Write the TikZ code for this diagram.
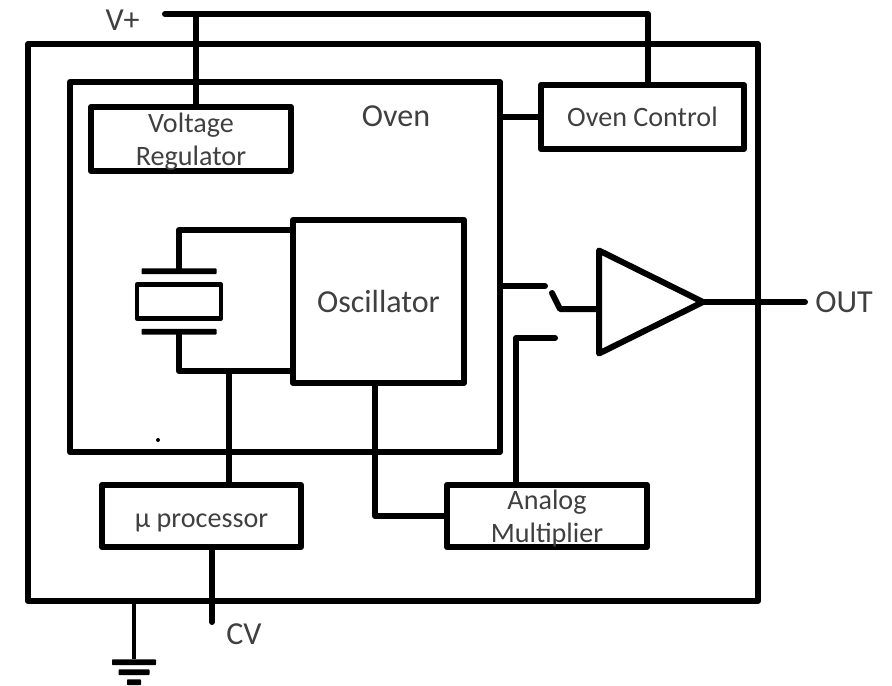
\documentclass[tikz,border=0pt]{standalone}
\usepackage{fontspec}
\setmainfont{Carlito}
\usepackage{xcolor}
\usepackage{tikz}
\usetikzlibrary{positioning,shapes.geometric}

\begin{document}
\begin{tikzpicture}[
    wire/.style={line width=0.15cm, line cap=round, line join=round},
    thinwire/.style={line width=0.09cm},
    box/.style={rectangle, draw, wire, outer sep=0pt, inner sep=0pt, align=center, text=black!75, font=\fontsize{20pt}{23.5pt}\selectfont},
    plate/.style={rectangle, fill=black, rounded corners=0.5pt, minimum height=0.14cm, inner sep=0pt, outer sep=0pt},
    caption/.style={text=black!75, font=\fontsize{22.8pt}{26pt}\selectfont, inner sep=0pt},
    amplifier/.style={isosceles triangle, isosceles triangle stretches, draw, wire, inner sep=0pt, outer sep=0pt, minimum height=2.6cm, minimum width=2.575cm},
  ]
  \useasboundingbox (0,0) rectangle (22.3,-17.15);

  % Enclosure and oven
  \node[box, minimum width=18.25cm, minimum height=13.925cm] (device) at (9.825,-8.0625) {};
  \node[box, minimum width=10.75cm, minimum height=9.25cm, below right=0.95cm and 1.05cm of device.north west] (oven) {};
  \node[caption] (ovenlabel) at ([xshift=2.775cm,yshift=-0.85cm]oven.north) {Oven};
  \node[circle, fill=black, inner sep=0pt, minimum size=0.1cm] (speck) at ([xshift=2.2cm,yshift=0.3cm]oven.south west) {};

  % Blocks
  \node[box, minimum width=5cm, minimum height=1.6cm, below right=0.625cm and 0.525cm of oven.north west] (regulator) {\rule{0pt}{0.62cm}Voltage\\Regulator};
  \node[box, minimum width=5.075cm, minimum height=1.6cm, below right=0.075cm and 1.025cm of oven.north east] (ovencontrol) {Oven Control};
  \node[box, minimum width=4.275cm, minimum height=4.075cm, below right=3.45cm and 5.575cm of oven.north west, font=\fontsize{22.8pt}{26pt}\selectfont] (oscillator) {Oscillator};
  \node[box, minimum width=4.975cm, minimum height=1.55cm, below right=0.825cm and 0.8cm of oven.south west] (processor) {\rule{0pt}{0.68cm}µ processor};
  \node[box, minimum width=5cm, minimum height=1.55cm, right=3.65cm of processor] (multiplier) {\rule{0pt}{0.62cm}Analog\\Multiplier};

  % Crystal
  \node[box, line width=0.11cm, minimum width=2.1cm, minimum height=0.85cm, left=1.8cm of oscillator] (crystal) {};
  \node[plate, minimum width=1.875cm, above=0.26cm of crystal] (platetop) {};
  \node[plate, minimum width=1.875cm, below=0.26cm of crystal] (platebot) {};

  % Amplifier
  \node[amplifier, anchor=lower side] (amp) at ([xshift=2.475cm,yshift=-0.875cm]oven.east) {};
  \node[caption, inner sep=0.25cm, right=2.55cm of amp.apex] (outlabel) {OUT};

  % Ground
  \node[plate, minimum width=1.1cm, below=1.46cm of device.south west, xshift=2.65cm] (grounda) {};
  \node[plate, minimum width=0.775cm, below=0.11cm of grounda] (groundb) {};
  \node[plate, minimum width=0.35cm, below=0.11cm of groundb] (groundc) {};

  % Free ends
  \coordinate (railstart) at (4.125,-0.35);
  \coordinate (railtap) at (4.9,-0.35);
  \coordinate (railend) at (16.2,-0.35);
  \node[caption, left=0.625cm of railstart, yshift=-0.15cm] (vlabel) {V+};
  \coordinate (xtalhigh) at ([yshift=-0.25cm]oscillator.north west);
  \coordinate (xtallow) at ([yshift=0.3cm]oscillator.south west);
  \coordinate (tune) at ([xshift=-1.6cm]xtallow);
  \coordinate (cvend) at ([xshift=0.2625cm,yshift=-1.875cm]processor.south);
  \node[caption, right=0.35cm of cvend, yshift=-0.3cm] (cvlabel) {CV};
  \coordinate (switcha) at ([xshift=1.125cm,yshift=-0.475cm]oven.east);
  \coordinate (switchb) at ([xshift=1.3cm,yshift=-0.65cm]oven.east);
  \coordinate (switchc) at ([xshift=1.5cm,yshift=-1.05cm]oven.east);
  \coordinate (switchd) at ([xshift=1.375cm,yshift=-1.775cm]oven.east);

  % Wires
  \draw[wire] (railstart) -- (railend) -- (railend |- ovencontrol.north);
  \draw[wire] (railtap) -- (railtap |- regulator.north);
  \draw[wire] (ovencontrol.west) -- (ovencontrol.west -| oven.east);
  \draw[wire] (platetop.north) |- (xtalhigh);
  \draw[wire] (platebot.south) |- (xtallow);
  \draw[wire] (tune) -- (tune |- processor.north);
  \draw[wire] ([xshift=0.2625cm]processor.south) -- (cvend);
  \draw[wire] ([xshift=-0.0875cm]oscillator.south) |- (multiplier.west);
  \draw[wire] ([xshift=-0.775cm]multiplier.north) |- (switchd);
  \draw[wire] (switcha -| oven.east) -- (switcha);
  \draw[wire] (switchb) -- (switchc) -- (switchc -| amp.lower side);
  \draw[wire] (amp.apex) -- (outlabel.west);
  \draw[thinwire] (grounda.north |- device.south) -- (grounda.north);
\end{tikzpicture}
\end{document}
